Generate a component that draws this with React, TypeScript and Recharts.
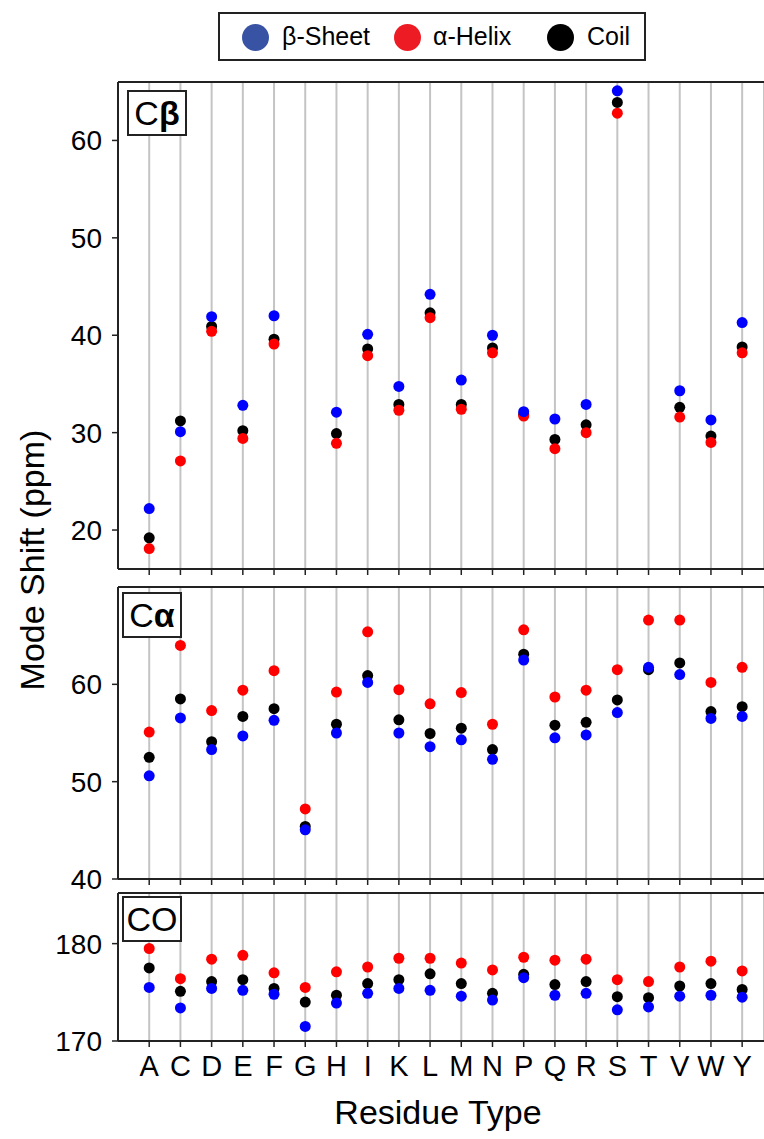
import { ScatterChart, Scatter, XAxis, YAxis, CartesianGrid, ReferenceLine } from "recharts";

const residues = ["A", "C", "D", "E", "F", "G", "H", "I", "K", "L", "M", "N", "P", "Q", "R", "S", "T", "V", "W", "Y"];

// C-beta mode shifts (G and T have no point in range)
const cbSheet = [22.2, 30.1, 41.9, 32.8, 42.0, null, 32.1, 40.1, 34.75, 44.2, 35.4, 40.0, 32.15, 31.4, 32.9, 65.1, null, 34.3, 31.3, 41.3];
const cbHelix = [18.1, 27.1, 40.4, 29.4, 39.1, null, 28.9, 37.9, 32.3, 41.8, 32.4, 38.2, 31.7, 28.35, 30.0, 62.8, null, 31.6, 29.0, 38.2];
const cbCoil = [19.2, 31.2, 40.9, 30.2, 39.6, null, 29.9, 38.6, 32.9, 42.3, 32.9, 38.7, 31.9, 29.3, 30.8, 63.9, null, 32.6, 29.65, 38.8];

// C-alpha
const caSheet = [50.6, 56.55, 53.3, 54.7, 56.3, 45.05, 55.0, 60.2, 55.0, 53.6, 54.3, 52.3, 62.5, 54.5, 54.8, 57.1, 61.75, 61.0, 56.5, 56.7];
const caHelix = [55.1, 64.0, 57.3, 59.4, 61.4, 47.2, 59.2, 65.4, 59.45, 58.0, 59.15, 55.9, 65.6, 58.7, 59.4, 61.5, 66.6, 66.6, 60.2, 61.75];
const caCoil = [52.5, 58.5, 54.1, 56.7, 57.5, 45.4, 55.9, 60.9, 56.35, 54.95, 55.5, 53.3, 63.1, 55.8, 56.1, 58.4, 61.5, 62.2, 57.2, 57.7];

// carbonyl
const coSheet = [175.5, 173.4, 175.4, 175.2, 174.8, 171.5, 173.9, 174.9, 175.4, 175.2, 174.6, 174.2, 176.5, 174.7, 174.9, 173.2, 173.5, 174.6, 174.7, 174.5];
const coHelix = [179.5, 176.4, 178.4, 178.8, 177.0, 175.5, 177.1, 177.6, 178.5, 178.5, 178.0, 177.3, 178.6, 178.3, 178.4, 176.3, 176.1, 177.6, 178.2, 177.2];
const coCoil = [177.5, 175.1, 176.1, 176.3, 175.4, 174.0, 174.7, 175.9, 176.3, 176.9, 175.9, 174.9, 176.85, 175.8, 176.1, 174.55, 174.45, 175.65, 175.9, 175.3];

const cbTicks = [20, 30, 40, 50, 60];
const caTicks = [40, 50, 60];
const coTicks = [170, 180];

const FONT = '"Liberation Sans", Arial, Helvetica, sans-serif';
const xTicks = residues.map((_, i) => i + 1);

const toPoints = (vals: (number | null)[]) =>
  vals.map((v, i) => (v == null ? null : { x: i + 1, y: v })).filter(Boolean) as { x: number; y: number }[];

const dot = (color: string) => (props: any) => <circle cx={props.cx} cy={props.cy} r={5.5} fill={color} />;

interface PanelProps {
  top: number;
  height: number;
  domain: [number, number];
  ticks: number[];
  sheet: (number | null)[];
  helix: (number | null)[];
  coil: (number | null)[];
  showLabels?: boolean;
  bottomPad?: number;
}

const Panel = ({ top, height, domain, ticks, sheet, helix, coil, showLabels, bottomPad = 0 }: PanelProps) => (
  <div style={{ position: "absolute", left: 0, top }}>
    <ScatterChart width={764} height={height} margin={{ top: 2, right: 0, bottom: bottomPad, left: 0 }}>
      <CartesianGrid horizontal={false} stroke="#c4c4c4" strokeWidth={2} />
      <XAxis
        type="number"
        dataKey="x"
        domain={[0, 20.7]}
        ticks={xTicks}
        interval={0}
        allowDataOverflow
        height={showLabels ? 50 : 10}
        tickSize={6}
        tickMargin={8}
        axisLine={{ stroke: "#222", strokeWidth: 2 }}
        tickLine={{ stroke: "#222", strokeWidth: 1.5 }}
        tick={{ fontSize: showLabels ? 29 : 1, fill: "#000", fontFamily: FONT }}
        tickFormatter={(v: number) => (showLabels ? residues[v - 1] : "")}
      />
      <YAxis
        type="number"
        dataKey="y"
        domain={domain}
        ticks={ticks}
        interval={0}
        allowDataOverflow
        width={118}
        tickSize={6}
        tickMargin={10}
        axisLine={{ stroke: "#222", strokeWidth: 2 }}
        tickLine={{ stroke: "#222", strokeWidth: 1.5 }}
        tick={{ fontSize: 28, fill: "#000", fontFamily: FONT }}
      />
      <ReferenceLine y={domain[1]} stroke="#222" strokeWidth={2} />
      <Scatter data={toPoints(coil)} shape={dot("#000000")} isAnimationActive={false} />
      <Scatter data={toPoints(helix)} shape={dot("#ff0000")} isAnimationActive={false} />
      <Scatter data={toPoints(sheet)} shape={dot("#0000ff")} isAnimationActive={false} />
    </ScatterChart>
  </div>
);

const PanelTag = ({ left, top, children }: { left: number; top: number; children: any }) => (
  <div
    style={{
      position: "absolute",
      left,
      top,
      width: 60,
      height: 46,
      boxSizing: "border-box",
      border: "2px solid #222",
      background: "#fff",
      fontSize: 34,
      lineHeight: "42px",
      textAlign: "center",
    }}
  >
    {children}
  </div>
);

const legendItems = [
  { label: "β-Sheet", color: "#3953a4", dotX: 255, textX: 282 },
  { label: "α-Helix", color: "#ed1c24", dotX: 407, textX: 433 },
  { label: "Coil", color: "#000000", dotX: 560, textX: 587 },
];

export default function App() {
  return (
    <div
      style={{
        position: "absolute",
        left: 0,
        top: 0,
        width: 764,
        height: 1139,
        background: "#fff",
        fontFamily: FONT,
        color: "#000",
        overflow: "hidden",
      }}
    >
      {/* legend */}
      <div
        style={{
          position: "absolute",
          left: 218,
          top: 12,
          width: 428,
          height: 49,
          boxSizing: "border-box",
          border: "2px solid #222",
        }}
      />
      {legendItems.map((it) => (
        <div key={it.label}>
          <div
            style={{
              position: "absolute",
              left: it.dotX - 13.5,
              top: 37 - 13.5,
              width: 27,
              height: 27,
              borderRadius: "50%",
              background: it.color,
            }}
          />
          <div style={{ position: "absolute", left: it.textX, top: 21, fontSize: 25, lineHeight: "30px" }}>
            {it.label}
          </div>
        </div>
      ))}

      <Panel top={80} height={499} domain={[16, 66]} ticks={cbTicks} sheet={cbSheet} helix={cbHelix} coil={cbCoil} />
      <Panel
        top={585}
        height={314}
        bottomPad={10}
        domain={[40, 70]}
        ticks={caTicks}
        sheet={caSheet}
        helix={caHelix}
        coil={caCoil}
      />
      <Panel
        top={891}
        height={200}
        domain={[170, 185.2]}
        ticks={coTicks}
        sheet={coSheet}
        helix={coHelix}
        coil={coCoil}
        showLabels
      />

      <PanelTag left={127} top={90}>
        C<b>β</b>
      </PanelTag>
      <PanelTag left={122} top={592}>
        C<b>α</b>
      </PanelTag>
      <PanelTag left={122} top={896}>
        CO
      </PanelTag>

      {/* axis titles */}
      <div
        style={{
          position: "absolute",
          left: 32,
          top: 560,
          transform: "translate(-50%, -50%) rotate(-90deg)",
          whiteSpace: "nowrap",
          fontSize: 34,
        }}
      >
        Mode Shift (ppm)
      </div>
      <div
        style={{
          position: "absolute",
          left: 438,
          top: 1112,
          transform: "translate(-50%, -50%)",
          whiteSpace: "nowrap",
          fontSize: 34,
        }}
      >
        Residue Type
      </div>
    </div>
  );
}
